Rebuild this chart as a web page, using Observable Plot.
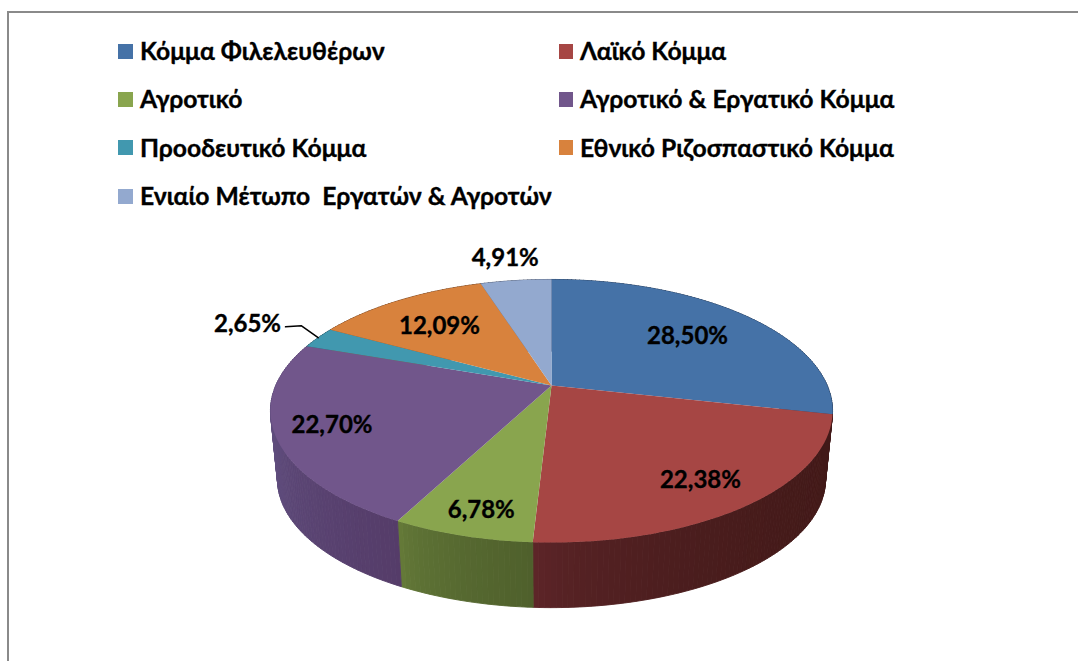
<!DOCTYPE html>
<html lang="el">
<head>
<meta charset="utf-8">
<script src="https://cdn.jsdelivr.net/npm/d3@7"></script>
<script src="https://cdn.jsdelivr.net/npm/@observablehq/plot@0.6"></script>
<style>
  html, body { margin: 0; padding: 0; background: #fff; width: 1078px; height: 661px; overflow: hidden; }
  body { position: relative; font-family: Lato, "Noto Sans", sans-serif; color: #000; }
  #frame { position: absolute; left: 7px; top: 11px; right: 0; bottom: 0; border-left: 2px solid #8a8a8a; border-top: 2px solid #8a8a8a; }
  #legend { position: relative; height: 225px; box-sizing: border-box; padding: 26.5px 0 0 118px;
    display: grid; grid-template-columns: 441px 1fr; grid-auto-rows: 48.3px; font-weight: 700; font-size: 24.7px; -webkit-text-stroke: 0.35px #000; }
  .item { display: flex; align-items: center; white-space: pre; height: 48.3px; }
  .sw { width: 15px; height: 15px; margin-right: 7px; flex: none; position: relative; top: 0.5px; }
  #legend .item:nth-child(even) .sw { width: 14px; margin-right: 7px; }
  #chart { position: absolute; left: 0; top: 225px; }
  #chart svg { display: block; background: transparent; }
</style>
</head>
<body>
<div id="frame"></div>
<div id="legend"></div>
<div id="chart"></div>
<script>
// ---- data ----
const parties = [
  "Κόμμα Φιλελευθέρων",
  "Λαϊκό Κόμμα",
  "Αγροτικό",
  "Αγροτικό & Εργατικό Κόμμα",
  "Προοδευτικό Κόμμα",
  "Εθνικό Ριζοσπαστικό Κόμμα",
  "Ενιαίο Μέτωπο  Εργατών & Αγροτών"
];
const shares = [28.50, 22.38, 6.78, 22.70, 2.65, 12.09, 4.91];

// ---- styling ----
const topColors   = ["#4572A7", "#A64644", "#89A54E", "#71568B", "#4198AF", "#D8823D", "#93A9CF"];
const sideLeft    = ["#2B4568", "#60262A", "#677D3A", "#604E7E", "#26596A", "#84502A", "#5A6780"];
const sideRight   = ["#2B4568", "#431A19", "#4F602C", "#553C69", "#26596A", "#84502A", "#5A6780"];
const labelReach  = [0.69, 0.80, 0.84, 0.80, 1.32, 0.69, 1.29];
const labelNudgeX = [-1, -3, 2.5, -2, -3, -2.5, -2.5];
const labelNudgeY = [1, 3, 3, 0, 0, 2, 2];

// ---- pie geometry: perspective projection of a tilted disc ----
const cx = 551, cy = 385, top0 = 225;   // pixel position of the disc centre
const radiusX = 275.7, radiusY = 126.6; // pixel size of one disc unit
const k = 0.1939;                       // perspective strength
const depth = 69 / radiusY, shrink = 0.975;
const fontFamily = 'Lato, "Noto Sans", sans-serif';
const sx = v => v / radiusX, sy = v => v / radiusY;

const total = d3.sum(shares);
const cumulative = d3.cumsum(shares).map(v => v / total);
const slices = parties.map((name, i) => ({
  name, i, value: shares[i],
  a0: (i ? cumulative[i - 1] : 0) * 2 * Math.PI,
  a1: cumulative[i] * 2 * Math.PI
}));

function project(a, r = 1) {
  const c = Math.sin(a), s = -Math.cos(a), w = 1 - k * r * s;
  return {x: r * c / w, y: r * s / w};
}
const under = p => ({x: p.x * shrink, y: p.y * shrink + depth});
const arcAngles = d => {
  const n = Math.max(2, Math.ceil((d.a1 - d.a0) / (Math.PI / 180)));
  return d3.range(n + 1).map(j => d.a0 + (d.a1 - d.a0) * j / n);
};

// top faces
const topPoints = slices.flatMap(d => [
  {x: 0, y: 0, id: d.i, c: topColors[d.i]},
  ...arcAngles(d).map(a => ({...project(a), id: d.i, c: topColors[d.i]}))
]);

// side wall: narrow shaded strips, each a closed outline
const sidePoints = slices.flatMap(d => {
  const as = arcAngles(d);
  const xs = as.map(a => project(a).x);
  const xMin = d3.min(xs), xMax = d3.max(xs);
  const shade = d3.interpolateRgb(sideLeft[d.i], sideRight[d.i]);
  return d3.pairs(as).flatMap(([a, b], j) => {
    const p = project(a), q = project(b);
    const t = Math.sqrt(Math.max(0, Math.min(1, ((p.x + q.x) / 2 - xMin) / (xMax - xMin))));
    const id = d.i + "-" + j, c = shade(t);
    return [p, q, under(q), under(p), p].map(v => ({...v, id, c}));
  });
});

// data labels
const fmt = v => v.toFixed(2).replace(".", ",") + "%";
const labels = slices.map(d => {
  const p = project((d.a0 + d.a1) / 2, labelReach[d.i]);
  return {
    x: p.x + sx(labelNudgeX[d.i]),
    y: p.y + sy(labelNudgeY[d.i]),
    text: fmt(d.value)
  };
});

// leader line of the small slice (index 4)
const small = slices[4];
const leader = [
  {x: labels[4].x + sx(38), y: labels[4].y + sy(3)},
  {x: labels[4].x + sx(54), y: labels[4].y + sy(2)},
  project((small.a0 + small.a1) / 2, 1)
];

// legend
const legend = d3.select("#legend");
parties.forEach((name, i) => {
  const item = legend.append("div").attr("class", "item");
  item.append("span").attr("class", "sw").style("background", topColors[i]);
  item.append("span").text(name);
});

const chart = Plot.plot({
  width: 1078,
  height: 436,
  margin: 0,
  style: {background: "transparent", fontFamily},
  x: {axis: null, domain: [-1, 1], range: [cx - radiusX, cx + radiusX]},
  y: {axis: null, domain: [-1, 1], range: [cy - top0 - radiusY, cy - top0 + radiusY]},
  color: {type: "identity"},
  marks: [
    Plot.line(sidePoints, {x: "x", y: "y", z: "id", fill: "c", stroke: "c", strokeWidth: 0.9, curve: "linear"}),
    Plot.line(topPoints, {x: "x", y: "y", z: "id", fill: "c", stroke: "none", curve: "linear"}),
    Plot.line(leader, {x: "x", y: "y", stroke: "#000", strokeWidth: 1.5, curve: "linear"}),
    Plot.text(labels, {x: "x", y: "y", text: "text", fill: "#000", stroke: "#000", strokeWidth: 0.35, fontSize: 24, fontWeight: 700, fontFamily})
  ]
});
document.getElementById("chart").appendChild(chart);
</script>
</body>
</html>
